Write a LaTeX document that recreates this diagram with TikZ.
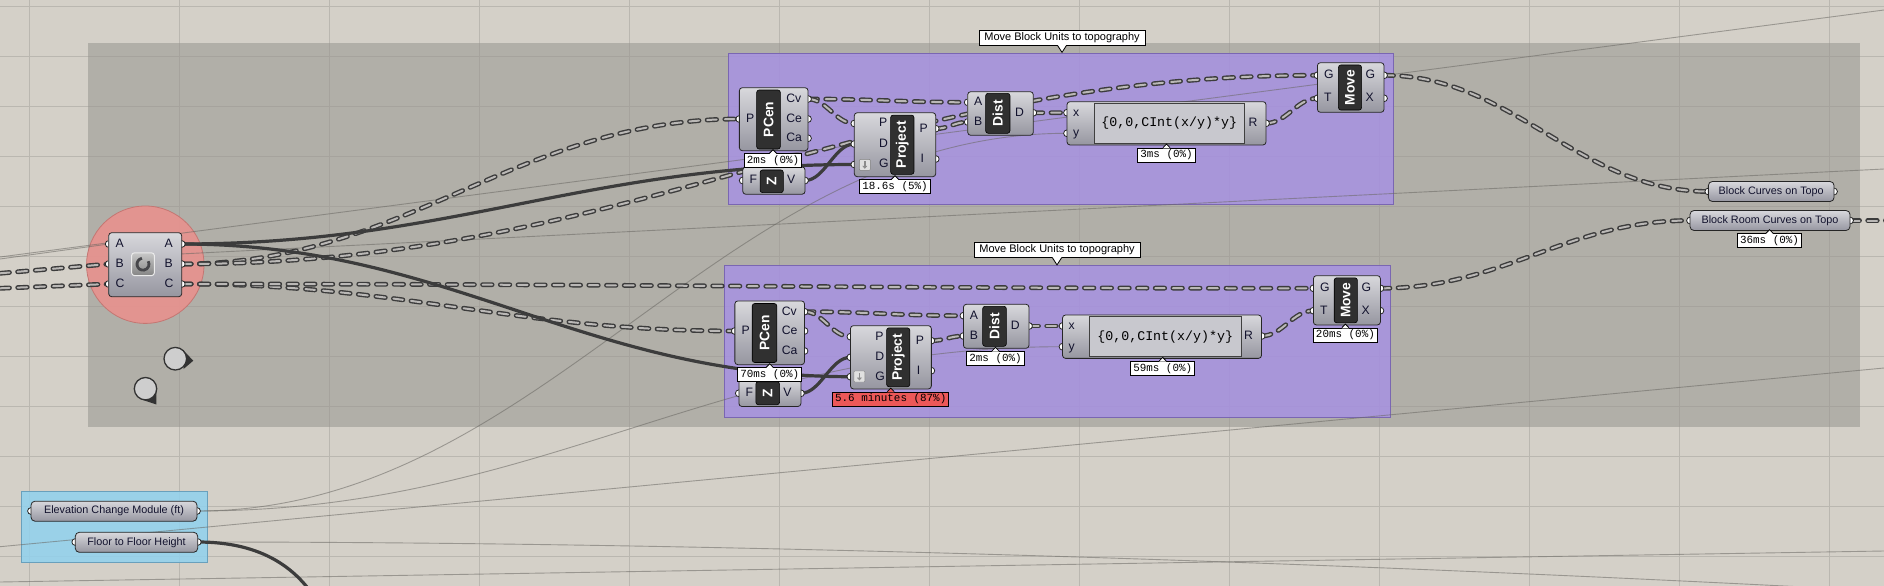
\documentclass[tikz,border=0pt]{standalone}
\usepackage{fontspec}
\setmainfont{Liberation Sans}
\newfontfamily\ghmono{Liberation Mono}
\usetikzlibrary{arrows.meta,shadings,calc}

\definecolor{canvas}{RGB}{212,208,200}
\definecolor{gridline}{RGB}{186,183,176}
\definecolor{grpGrey}{RGB}{150,148,142}
\definecolor{grpPurple}{RGB}{166,144,230}
\definecolor{grpPurpleEdge}{RGB}{122,102,178}
\definecolor{grpBlue}{RGB}{145,210,238}
\definecolor{grpBlueEdge}{RGB}{105,160,188}
\definecolor{haloRed}{RGB}{232,146,142}
\definecolor{haloEdge}{RGB}{196,118,114}
\definecolor{compTop}{RGB}{216,216,220}
\definecolor{compBot}{RGB}{150,150,160}
\definecolor{barFill}{RGB}{48,48,48}
\definecolor{labText}{RGB}{18,18,45}
\definecolor{exFill}{RGB}{200,200,206}
\definecolor{timerRed}{RGB}{236,88,88}
\definecolor{wireOut}{RGB}{60,60,60}
\definecolor{wireIn}{RGB}{186,184,182}
\definecolor{faintC}{RGB}{105,103,98}
\definecolor{pinFill}{RGB}{206,206,206}
\definecolor{icoDark}{RGB}{70,70,74}

\begin{document}
\begin{tikzpicture}[
  x=1pt, y=-1pt,
  comp/.style={draw=black!85, line width=0.8pt, rounded corners=3pt, top color=compTop, bottom color=compBot, inner sep=0pt},
  bar/.style={fill=barFill, draw=black, line width=0.6pt, rounded corners=2.5pt, rotate=90, inner sep=0pt, text=white, font=\fontsize{13.8}{14}\selectfont\bfseries},
  plab/.style={inner sep=0pt, text=labText, text height=8.6pt, text depth=2pt, font=\fontsize{12.2}{12}\selectfont},
  grip/.style={draw=black!85, fill=white, line width=0.8pt},
  timer/.style={draw=black, fill=white, line width=0.8pt, inner xsep=2.5pt, inner ysep=0pt, minimum height=14pt, font=\ghmono\fontsize{10.9}{11}\selectfont},
  slow/.style={timer, fill=timerRed},
  param/.style={comp, rounded corners=4pt, minimum height=20pt, text=labText, font=\fontsize{10.8}{11}\selectfont},
  exbox/.style={draw=black!75, fill=exFill, line width=0.6pt, inner sep=0pt, font=\ghmono\fontsize{13.3}{14}\selectfont},
  gtitle/.style={draw=black, fill=white, line width=0.8pt, inner xsep=3pt, inner ysep=0pt, minimum height=15pt, font=\fontsize{11}{11}\selectfont},
  tree/.style={draw=wireIn, line width=2pt, line cap=round, dash pattern=on 9.5pt off 8.2pt,
    preaction={draw=wireOut, line width=4.8pt, line cap=round, dash pattern=on 9.5pt off 8.2pt}},
  item/.style={draw=wireOut, line width=3.2pt},
  faint/.style={draw=faintC, line width=0.9pt, opacity=0.55},
  pin/.style={draw=black!80, fill=pinFill, line width=1.3pt},
  ghcurve/.style={to path={let \p1=(\tikztostart), \p2=(\tikztotarget), \n1={max(0.4*abs(\x2-\x1),12)} in
    .. controls ([xshift=\n1]\tikztostart) and ([xshift=-\n1]\tikztotarget) .. (\tikztotarget)}},
]
\useasboundingbox (0,0) rectangle (1884,586);
\clip (0,0) rectangle (1884,586);

% --- canvas and grid ---
\fill[canvas] (0,0) rectangle (1884,586);
\foreach \gx in {29.3,179.3,...,1829.3} \draw[gridline, line width=1pt] (\gx,0) -- (\gx,586);
\foreach \gy in {6.4,56.4,...,556.4} \draw[gridline, line width=1pt] (0,\gy) -- (1884,\gy);

% --- groups ---
\fill[grpGrey, opacity=0.55] (88,43) rectangle (1860,427);
\draw[fill=grpPurple, fill opacity=0.8, draw=grpPurpleEdge, line width=0.8pt] (728.6,53) rectangle (1393.5,204);
\draw[fill=grpPurple, fill opacity=0.8, draw=grpPurpleEdge, line width=0.8pt] (724.5,265) rectangle (1390.5,417);
\draw[fill=grpBlue, fill opacity=0.85, draw=grpBlueEdge, line width=0.8pt] (21.3,491) rectangle (207.7,562.7);
\draw[fill=haloRed, fill opacity=0.9, draw=haloEdge, line width=0.8pt] (145.3,264.7) circle[radius=58.7pt];

% pins
\fill[black!80] (183.5,350.5) -- (193.3,360.7) -- (183.5,369) -- cycle;
\draw[pin] (175.3,358.7) circle[radius=11.3pt];
\fill[black!80] (156.5,390) -- (156.3,404.5) -- (143,400) -- cycle;
\draw[pin] (145.5,388.7) circle[radius=11.2pt];

% --- ports ---
\def\ports{dd-Ai/108.7/244, dd-Bi/108.7/264, dd-Ci/108.7/284,
  dd-Ao/181.7/244, dd-Bo/181.7/264, dd-Co/181.7/284,
  pc1-P/739.3/119, pc1-Cv/808/99, pc1-Ce/808/119, pc1-Ca/808/138.3,
  z1-F/742.7/180.5, z1-V/805/180.5,
  pj1-P/854.3/123.5, pj1-D/854.3/144, pj1-G/854.3/164.5, pj1-Po/935.7/128.7, pj1-I/935.7/159,
  ds1-A/967.7/102.3, ds1-B/967.7/122, ds1-D/1033.3/112.8,
  ex1-x/1067/112.7, ex1-y/1067/133.3, ex1-R/1266/123.3,
  mv1-G/1317.4/75.3, mv1-T/1317.4/98.3, mv1-Go/1384/75.3, mv1-X/1384/98.3,
  pc2-P/734.8/331, pc2-Cv/804.5/311.7, pc2-Ce/804.5/331, pc2-Ca/804.5/351,
  z2-F/738.8/393.3, z2-V/800.9/393.3,
  pj2-P/850.4/336.7, pj2-D/850.4/357.3, pj2-G/850.4/376.7, pj2-Po/931.3/340.7, pj2-I/931.3/370.7,
  ds2-A/963.4/315.7, ds2-B/963.4/336, ds2-D/1029/326,
  ex2-x/1062.5/326, ex2-y/1062.5/346.7, ex2-R/1261.6/336,
  mv2-G/1313.4/288.3, mv2-T/1313.4/310.7, mv2-Go/1380.4/288.3, mv2-X/1380.4/310.7,
  bc-i/1708.3/191.5, bc-o/1834/191.5, brc-i/1690/220.5, brc-o/1850/220.5,
  el-i/31/511, el-o/197/511, ff-i/75.3/542, ff-o/197.7/542}
\foreach \n/\x/\y in \ports \coordinate (\n) at (\x,\y);

% free wire ends
\coordinate (inB) at (0,273.3);
\coordinate (inC) at (0,288.3);
\coordinate (outR) at (1900,220.5);
\coordinate (ffEnd) at (322,610);
\coordinate (fA) at (0,257);    \coordinate (fAe) at (1884,10);
\coordinate (fB) at (0,259);
\coordinate (fC) at (150,255.5); \coordinate (fCe) at (1884,169);
\coordinate (fD) at (0,546.7);  \coordinate (fDe) at (1884,368);
\coordinate (fEe) at (1900,592);
\coordinate (fF) at (0,582);    \coordinate (fFe) at (1884,551);

% --- faint wires ---
\draw[faint] (fA) -- (fAe);
\draw[faint] (fB) -- (dd-Ai);
\draw[faint] (fC) -- (fCe);
\draw[faint] (fD) -- (fDe);
\draw[faint] (fF) -- (fFe);
\draw[faint] (el-o) to[ghcurve] (ex1-y);
\draw[faint] (el-o) to[ghcurve] (ex2-y);
\draw[faint] (ff-o) .. controls (700,542) and (1300,560) .. (fEe);

% --- wires ---
\draw[tree] (inB) -- (dd-Bi);
\draw[tree] (inC) -- (dd-Ci);
\draw[tree] (dd-Bo) to[ghcurve] (pc1-P);
\draw[tree] (dd-Bo) to[ghcurve] (mv1-G);
\draw[tree] (dd-Co) to[ghcurve] (pc2-P);
\draw[tree] (dd-Co) to[ghcurve] (mv2-G);
\draw[item] (dd-Ao) to[ghcurve] (pj1-G);
\draw[item] (dd-Ao) to[ghcurve] (pj2-G);
\draw[item] (ff-o) .. controls (262,542) and (300,568) .. (ffEnd);

\draw[tree] (pc1-Cv) to[ghcurve] (ds1-A);
\draw[tree] (pc1-Cv) to[ghcurve] (pj1-P);
\draw[item] (z1-V) to[ghcurve] (pj1-D);
\draw[tree] (pj1-Po) to[ghcurve] (ds1-B);
\draw[tree] (ds1-D) to[ghcurve] (ex1-x);
\draw[tree] (ex1-R) to[ghcurve] (mv1-T);
\draw[tree] (mv1-Go) to[ghcurve] (bc-i);

\draw[tree] (pc2-Cv) to[ghcurve] (ds2-A);
\draw[tree] (pc2-Cv) to[ghcurve] (pj2-P);
\draw[item] (z2-V) to[ghcurve] (pj2-D);
\draw[tree] (pj2-Po) to[ghcurve] (ds2-B);
\draw[tree] (ds2-D) to[ghcurve] (ex2-x);
\draw[tree] (ex2-R) to[ghcurve] (mv2-T);
\draw[tree] (mv2-Go) to[ghcurve] (brc-i);
\draw[tree] (brc-o) -- (outR);

\foreach \n/\x/\y in \ports \draw[grip] (\n) circle[radius=3.4pt];

% --- data dam ---
\node[comp, minimum width=73pt, minimum height=64pt] (dd) at (145.2,264.7) {};
\node[draw=white!92!black, line width=1pt, rounded corners=2.5pt, top color=black!22, bottom color=black!48, minimum size=22.6pt, inner sep=0pt] (dd-icon) at (143,264.2) {};
\draw[line width=2.8pt, draw=icoDark] ([shift={(100:6pt)}]dd-icon.center) arc[start angle=100, end angle=390, radius=6pt];

% --- upper group ---
\node[comp, minimum width=68.7pt, minimum height=63pt] (pc1) at (773.7,119.2) {};
\node[bar, minimum width=59pt, minimum height=23.7pt] (pc1-bar) at (768.5,119.5) {PCen};
\node[comp, minimum width=62.3pt, minimum height=27.3pt] (z1) at (773.9,180.6) {};
\node[bar, minimum width=22.7pt, minimum height=23.3pt] (z1-bar) at (771.7,181.3) {Z};
\node[comp, minimum width=81.4pt, minimum height=64pt] (pj1) at (895,144.7) {};
\node[bar, minimum width=59.3pt, minimum height=23.3pt] (pj1-bar) at (902.3,144.7) {Project};
\node[draw=black!50, fill=black!12, rounded corners=1pt, minimum size=11pt, inner sep=0pt] (pj1-ico) at (864.8,164.8) {};
\draw[-{Triangle[length=3pt,width=5pt]}, line width=1.5pt, draw=black!45] ([yshift=3.5pt]pj1-ico.center) -- ([yshift=-4pt]pj1-ico.center);
\node[comp, minimum width=65.6pt, minimum height=43.6pt] (ds1) at (1000.5,113.5) {};
\node[bar, minimum width=40pt, minimum height=24.3pt] (ds1-bar) at (997.8,113.3) {Dist};
\node[comp, minimum width=199pt, minimum height=43.3pt] (ex1) at (1166.5,123.3) {};
\node[exbox, minimum width=150.8pt, minimum height=39.6pt] (ex1-body) at (1169.2,123.5) {\{0,0,CInt(x/y)*y\}};
\node[comp, minimum width=66.6pt, minimum height=49.6pt] (mv1) at (1350.7,87.5) {};
\node[bar, minimum width=45pt, minimum height=23.2pt] (mv1-bar) at (1350,87.5) {Move};

% --- lower group ---
\node[comp, minimum width=69.7pt, minimum height=63.7pt] (pc2) at (769.7,332.8) {};
\node[bar, minimum width=59pt, minimum height=24.6pt] (pc2-bar) at (764.5,333) {PCen};
\node[comp, minimum width=62pt, minimum height=27pt] (z2) at (769.9,393) {};
\node[bar, minimum width=23pt, minimum height=23.7pt] (z2-bar) at (767.7,393.2) {Z};
\node[comp, minimum width=80.9pt, minimum height=63.3pt] (pj2) at (890.9,357.3) {};
\node[bar, minimum width=59pt, minimum height=23.2pt] (pj2-bar) at (898.2,357.3) {Project};
\node[draw=black!50, fill=black!12, rounded corners=1pt, minimum size=11pt, inner sep=0pt] (pj2-ico) at (859.4,376.5) {};
\draw[-{Triangle[length=3pt,width=5pt]}, line width=1.5pt, draw=black!45] ([yshift=3.5pt]pj2-ico.center) -- ([yshift=-4pt]pj2-ico.center);
\node[comp, minimum width=65.6pt, minimum height=44pt] (ds2) at (996.2,326.3) {};
\node[bar, minimum width=40pt, minimum height=23.7pt] (ds2-bar) at (994.5,326.3) {Dist};
\node[comp, minimum width=199pt, minimum height=43.3pt] (ex2) at (1162,336.7) {};
\node[exbox, minimum width=151.7pt, minimum height=40pt] (ex2-body) at (1165.2,336.7) {\{0,0,CInt(x/y)*y\}};
\node[comp, minimum width=67pt, minimum height=49.3pt] (mv2) at (1346.9,300.3) {};
\node[bar, minimum width=45pt, minimum height=23.2pt] (mv2-bar) at (1345.8,300.3) {Move};

% --- params ---
\node[param, minimum width=125.7pt] (bc) at (1771.2,191.5) {Block Curves on Topo};
\node[param, minimum width=160pt] (brc) at (1770,220.5) {Block Room Curves on Topo};
\node[param, minimum width=166pt] (el) at (114,511.2) {Elevation Change Module (ft)};
\node[param, minimum width=122.4pt] (ff) at (136.5,542.3) {Floor to Floor Height};

% port labels
\foreach \n/\x/\y/\t in {
  dd-Ai/115.3/244/A, dd-Bi/115.3/264/B, dd-Ci/115.3/284/C,
  dd-Ao/164.3/244/A, dd-Bo/164.3/264/B, dd-Co/164.3/284/C,
  pc1-P/745.8/119/P, pc1-Cv/786.2/99/Cv, pc1-Ce/786.2/119/Ce, pc1-Ca/786.2/138.3/Ca,
  z1-F/749.3/180.5/F, z1-V/787/180.5/V,
  pj1-P/879/123.5/P, pj1-D/879/144/D, pj1-G/879/164.5/G, pj1-Po/919.5/128.7/P, pj1-I/920.5/159/I,
  ds1-A/974/102.3/A, ds1-B/974/122/B, ds1-D/1015/112.8/D,
  ex1-x/1073/112.7/x, ex1-y/1073/133.3/y, ex1-R/1248.3/123.3/R,
  mv1-G/1324/75.3/G, mv1-T/1324/98.3/T, mv1-Go/1365.5/75.3/G, mv1-X/1365.5/98.3/X,
  pc2-P/741.3/331/P, pc2-Cv/781.7/311.7/Cv, pc2-Ce/781.7/331/Ce, pc2-Ca/781.7/351/Ca,
  z2-F/745.4/393.3/F, z2-V/783.1/393.3/V,
  pj2-P/875.1/336.7/P, pj2-D/875.1/357.3/D, pj2-G/875.1/376.7/G, pj2-Po/915.6/340.7/P, pj2-I/916.6/370.7/I,
  ds2-A/969.7/315.7/A, ds2-B/969.7/336/B, ds2-D/1010.7/326/D,
  ex2-x/1068.5/326/x, ex2-y/1068.5/346.7/y, ex2-R/1243.8/336/R,
  mv2-G/1320/288.3/G, mv2-T/1320/310.7/T, mv2-Go/1361.5/288.3/G, mv2-X/1361.5/310.7/X}
  \node[plab, anchor=west] (l-\n) at (\x,\y) {\t};

% --- timers ---
\node[timer] (tm-pc1) at (773,160.7) {2ms (0\%)};
\node[timer] (tm-pj1) at (895,186.7) {18.6s (5\%)};
\node[timer] (tm-ex1) at (1166.5,155) {3ms (0\%)};
\node[timer] (tm-pc2) at (769.7,374.7) {70ms (0\%)};
\node[slow] (tm-pj2) at (890.7,399) {5.6 minutes (87\%)};
\node[timer] (tm-ds2) at (995.5,358.3) {2ms (0\%)};
\node[timer] (tm-ex2) at (1162.7,368.3) {59ms (0\%)};
\node[timer] (tm-mv2) at (1345.4,335) {20ms (0\%)};
\node[timer] (tm-brc) at (1769.5,240.6) {36ms (0\%)};
\foreach \t/\c in {tm-pc1/white, tm-pj1/white, tm-ex1/white, tm-pc2/white, tm-pj2/timerRed,
  tm-ds2/white, tm-ex2/white, tm-mv2/white, tm-brc/white} {
  \fill[\c] ([xshift=-3.5pt,yshift=-0.8pt]\t.north) -- ([yshift=3.5pt]\t.north) -- ([xshift=3.5pt,yshift=-0.8pt]\t.north) -- cycle;
  \draw[line width=0.8pt] ([xshift=-3.5pt]\t.north) -- ([yshift=3.5pt]\t.north) -- ([xshift=3.5pt]\t.north);
}

% --- group titles ---
\node[gtitle, minimum width=166pt] (t1) at (1062,37.5) {Move Block Units to topography};
\node[gtitle, minimum width=166pt] (t2) at (1057,250) {Move Block Units to topography};
\foreach \g in {t1,t2} {
  \fill[white] ([xshift=-4.5pt,yshift=0.8pt]\g.south) -- ([yshift=-7pt]\g.south) -- ([xshift=4.5pt,yshift=0.8pt]\g.south) -- cycle;
  \draw[line width=0.8pt] ([xshift=-4.5pt]\g.south) -- ([yshift=-7pt]\g.south) -- ([xshift=4.5pt]\g.south);
}

\end{tikzpicture}
\end{document}
